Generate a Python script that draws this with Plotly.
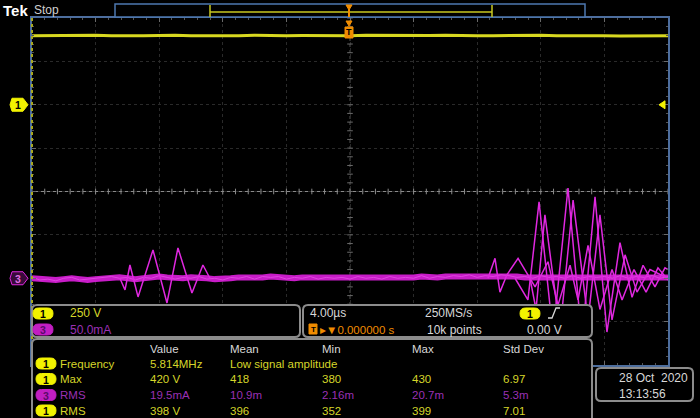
import numpy as np
import plotly.graph_objects as go

# ---------------- scope settings ----------------
time_per_div_us = 4.0
h_divs, v_divs = 10, 8
ch1_volts_per_div = 250.0
ch1_position_div = 2.0
ch3_ma_per_div = 50.0
ch3_position_div = -2.0

# ---------------- waveform data ----------------
# Channel 1 (yellow), volts, samples spread evenly over the record
ch1_volts = [398, 399, 397, 398, 400, 398, 396, 398, 399, 401,
             398, 397, 399, 398, 400, 397, 398, 399, 398, 396,
             398, 400, 399, 397, 398, 399, 401, 398, 397, 398,
             399, 398, 400, 397, 398, 399, 398, 396, 398, 399, 398]

# Channel 3 (magenta) baseline band, mA, samples spread evenly over the record
ch3_base_ma = [0, -1, -2, -2, -1, 0, -1, -2, -1, 0,
               1, 1, 0, -1, 0, 1, 2, 1, 0, 0,
               1, 1, 0, -1, -1, 0, 1, 1, 0, 1,
               2, 1, 0, 0, 1, 1, 0, 0, 1, 0,
               0, 1, 1, 0, 0, 1, 1, 0, 1, 2,
               1, 1, 2, 2, 3, 3, 2, 2, 3, 3,
               2, 2, 1, 1, 2, 2, 1, 1, 2, 1,
               1, 2, 1, 1, 2, 1, 1, 2, 2, 1, 1]
ch3_fuzz_ma = [1, -2, -1, -3, 0, 1, -2, -1, 0, 1,
               2, 0, 1, -2, 1, 0, 3, 1, -1, 1,
               0, 2, -1, 0, -2, 1, 0, 2, -1, 2,
               1, 2, -1, 1, 0, 2, -1, 1, 0, 1,
               -1, 2, 0, 1, -1, 2, 0, 1, 0, 3,
               0, 2, 1, 3, 2, 4, 1, 3, 2, 4,
               3, 1, 2, 0, 3, 1, 2, 0, 3, 0,
               2, 1, 2, 0, 3, 0, 2, 1, 3, 0, 2]

# Transient bursts on channel 3 (time in µs, current in mA)
burst1_t_us = [-14.47, -14.15, -13.84, -13.33, -12.39, -11.51, -10.82, -9.94, -9.25, -8.81]
burst1_ma = [0, -13.5, 15.3, -21.5, 32.6, -28.5, 34.9, -16.9, 15.3, 0]
burstA_t_us = [10.38, 11.19, 11.89, 12.77, 13.71, 14.59, 15.41, 16.16, 16.98, 17.74, 18.43, 19.18, 19.81, 20.0]
burstA_ma = [0, -25, 88, -65, 104, -71, 94, -62, 41, -22, 15, -10, 12, 10]
burstB_t_us = [8.68, 9.12, 9.43, 9.87, 10.57, 11.64, 12.45, 13.08, 13.84, 14.34, 14.97, 15.72,
               16.48, 17.11, 17.86, 18.62, 19.37, 20.0]
burstB_ma = [0, 23, -16, 4, 23, -10, 19, -31, 15, -25, 38, -36, 10, -25, 10, -16, 12, -2]
burstC_t_us = [11.32, 11.70, 12.26, 13.21, 14.03, 14.97, 15.72, 16.48, 17.30, 18.05, 18.87, 20.0]
burstC_ma = [0, -36, 73, -60, 90, -48, 73, -48, 27, -16, 10, 0]

# ---------------- readout texts ----------------
ch1_scale_text = "250 V"
ch3_scale_text = "50.0mA"
horiz_scale_text = "4.00µs"
trig_pos_text = "▸▼0.000000 s"
sample_rate_text = "250MS/s"
record_len_text = "10k points"
trig_level_text = "0.00 V"
date_text = "28 Oct  2020"
time_text = "13:13:56"

meas_headers = ["Value", "Mean", "Min", "Max", "Std Dev"]
meas_sources = ["1", "1", "3", "1"]
meas_names = ["Frequency", "Max", "RMS", "RMS"]
meas_value = ["5.814MHz", "420 V", "19.5mA", "398 V"]
meas_mean = ["Low signal amplitude", "418", "10.9m", "396"]
meas_min = ["", "380", "2.16m", "352"]
meas_max = ["", "430", "20.7m", "399"]
meas_std = ["", "6.97", "5.3m", "7.01"]

# ---------------- layout helpers ----------------
W, H = 700, 418
GL, GR, GT, GB = 32, 668, 18, 365   # graticule box in pixels
FONT = "Liberation Sans, Arial, sans-serif"
YEL = "#f2f200"
YEL_TXT = "#d6d62a"
MAG = "#e028e0"
MAG_TXT = "#9a30b4"
WHT = "#d8d8d8"
ORG = "#f08c00"
BOXC = "#8c8c8c"


def X(p):
    return (p - GL) / (GR - GL)


def Y(p):
    return (GB - p) / (GB - GT)


def div_to_py(d):
    return GB - (d + v_divs / 2) / v_divs * (GB - GT)


half_t = time_per_div_us * h_divs / 2
x_range = [-half_t, half_t]
ch1_range = [(-v_divs / 2 - ch1_position_div) * ch1_volts_per_div,
             (v_divs / 2 - ch1_position_div) * ch1_volts_per_div]
ch3_range = [(-v_divs / 2 - ch3_position_div) * ch3_ma_per_div,
             (v_divs / 2 - ch3_position_div) * ch3_ma_per_div]

shapes = []
annotations = []


def rrect(x0, y0, x1, y1, r, line_color, fill="black", width=1.5, layer="above"):
    path = (f"M {X(x0 + r)},{Y(y0)} L {X(x1 - r)},{Y(y0)} Q {X(x1)},{Y(y0)} {X(x1)},{Y(y0 + r)} "
            f"L {X(x1)},{Y(y1 - r)} Q {X(x1)},{Y(y1)} {X(x1 - r)},{Y(y1)} "
            f"L {X(x0 + r)},{Y(y1)} Q {X(x0)},{Y(y1)} {X(x0)},{Y(y1 - r)} "
            f"L {X(x0)},{Y(y0 + r)} Q {X(x0)},{Y(y0)} {X(x0 + r)},{Y(y0)} Z")
    shapes.append(dict(type="path", xref="paper", yref="paper", path=path,
                       line=dict(color=line_color, width=width), fillcolor=fill, layer=layer))


def poly(points, line_color, fill, width=1.0, layer="above"):
    path = "M " + " L ".join(f"{X(a)},{Y(b)}" for a, b in points) + " Z"
    shapes.append(dict(type="path", xref="paper", yref="paper", path=path,
                       line=dict(color=line_color, width=width), fillcolor=fill, layer=layer))


def pline(points, color, width=1.0, dash="solid", layer="above"):
    path = "M " + " L ".join(f"{X(a)},{Y(b)}" for a, b in points)
    shapes.append(dict(type="path", xref="paper", yref="paper", path=path,
                       line=dict(color=color, width=width, dash=dash), layer=layer))


def text(x, y, s, color, size=11.5, anchor="left", bold=False, family=FONT):
    if bold:
        s = f"<b>{s}</b>"
    annotations.append(dict(x=X(x), y=Y(y), xref="paper", yref="paper", text=s, showarrow=False,
                            xanchor=anchor, yanchor="middle",
                            font=dict(color=color, size=size, family=family)))


def badge(cx, cy, label, fill, txt_color, w=20, h=11):
    rrect(cx - w / 2, cy - h / 2, cx + w / 2, cy + h / 2, h / 2, fill, fill, 1)
    text(cx, cy + 0.5, label, txt_color, 10.5, anchor="center", bold=True)


# ---------------- figure ----------------
fig = go.Figure()

t_ch1 = np.linspace(x_range[0], x_range[1], len(ch1_volts))
t_ch3 = np.linspace(x_range[0], x_range[1], len(ch3_base_ma))

fig.add_trace(go.Scatter(x=t_ch1, y=ch1_volts, yaxis="y2", mode="lines",
                         line=dict(color="#d8d820", width=3), hoverinfo="skip"))
fig.add_trace(go.Scatter(x=t_ch3, y=ch3_base_ma, yaxis="y3", mode="lines",
                         line=dict(color="#c81cc8", width=6), hoverinfo="skip"))
fig.add_trace(go.Scatter(x=t_ch3, y=ch3_fuzz_ma, yaxis="y3", mode="lines",
                         line=dict(color="#f060f0", width=1.0), opacity=0.6, hoverinfo="skip"))
for bt, bm in [(burst1_t_us, burst1_ma), (burstB_t_us, burstB_ma),
               (burstC_t_us, burstC_ma), (burstA_t_us, burstA_ma)]:
    fig.add_trace(go.Scatter(x=bt, y=bm, yaxis="y3", mode="lines",
                             line=dict(color=MAG, width=1.5), hoverinfo="skip"))

# center graticule tick marks
minor_t = np.arange(x_range[0], x_range[1] + 1e-9, time_per_div_us / 5)
minor_v = np.arange(-v_divs / 2, v_divs / 2 + 1e-9, 0.2)
fig.add_trace(go.Scatter(x=minor_t, y=np.zeros_like(minor_t), mode="markers",
                         marker=dict(symbol="line-ns", size=4, line=dict(width=1, color="#8a8a8a")),
                         hoverinfo="skip"))
fig.add_trace(go.Scatter(x=np.zeros_like(minor_v), y=minor_v, mode="markers",
                         marker=dict(symbol="line-ew", size=4, line=dict(width=1, color="#6a6a6a")),
                         hoverinfo="skip"))

# center lines
shapes.append(dict(type="line", xref="x", yref="y", x0=x_range[0], x1=x_range[1], y0=0, y1=0,
                   line=dict(color="#8a8a8a", width=1), layer="below"))
shapes.append(dict(type="line", xref="x", yref="y", x0=0, x1=0, y0=-v_divs / 2, y1=v_divs / 2,
                   line=dict(color="#505050", width=1, dash="dot"), layer="below"))
# left border (channel 1 coloured ticks)
pline([(GL, GT), (GL, GB)], "#a8a820", 2, dash="dot")

# channel markers on the left
y1m = div_to_py(ch1_position_div)
poly([(12, y1m - 6.5), (23, y1m - 6.5), (28, y1m), (23, y1m + 6.5), (12, y1m + 6.5), (10, y1m)], YEL, YEL)
text(17.5, y1m + 0.5, "1", "black", 10.5, anchor="center", bold=True)
y3m = div_to_py(ch3_position_div)
poly([(12, y3m - 6.5), (23, y3m - 6.5), (28, y3m), (23, y3m + 6.5), (12, y3m + 6.5), (10, y3m)], MAG, "#3a0a3a")
text(17.5, y3m + 0.5, "3", "#e070e0", 10.5, anchor="center", bold=True)
# trigger level arrow on the right
poly([(659, y1m), (665, y1m - 4), (665, y1m + 4)], YEL, YEL)

# top bar: Tek Stop + record view
text(1, 10, "Tek", "white", 15, bold=True)
text(32, 10, "Stop", "#d0d0d0", 12)
shapes.append(dict(type="rect", xref="paper", yref="paper", x0=X(115), x1=X(585), y0=Y(4), y1=Y(17),
                   line=dict(color="#4d78b0", width=1.5), fillcolor="black", layer="above"))
pline([(210, 5), (210, 17)], "#c8c820", 1.5)
pline([(492, 5), (492, 17)], "#c8c820", 1.5)
pline([(210, 12), (492, 12)], "#c8c820", 1.5)
poly([(346, 5), (352, 5), (349, 10)], ORG, ORG)
pline([(349, 9), (349, 17)], ORG, 2)
# trigger position marker on graticule
poly([(346, 21), (352, 21), (349, 26)], ORG, ORG)
shapes.append(dict(type="rect", xref="paper", yref="paper", x0=X(345), x1=X(353), y0=Y(27), y1=Y(38),
                   line=dict(color=ORG, width=1), fillcolor=ORG, layer="above"))
text(349, 32.5, "T", "black", 9, anchor="center", bold=True)

# ---------------- readout boxes ----------------
rrect(32, 305, 300, 337, 5, BOXC, "black", 2)
badge(43, 313.5, "1", YEL, "black")
text(68, 313, ch1_scale_text, YEL_TXT, 12)
badge(43, 329.5, "3", "#c21ec2", "#5a0a6a")
text(68, 329.5, ch3_scale_text, MAG_TXT, 12)

rrect(303, 305, 592, 337, 5, BOXC, "black", 2)
text(308, 313, horiz_scale_text, WHT, 12)
shapes.append(dict(type="rect", xref="paper", yref="paper", x0=X(309), x1=X(317), y0=Y(324), y1=Y(334),
                   line=dict(color=ORG, width=1), fillcolor=ORG, layer="above"))
text(313, 329.5, "T", "black", 8, anchor="center", bold=True)
text(318, 329.5, trig_pos_text, ORG, 11.5)
text(423, 313, sample_rate_text, WHT, 12)
text(425, 329.5, record_len_text, WHT, 12)
badge(530, 313.5, "1", YEL, "black")
pline([(548, 318), (552, 318), (556, 308), (560, 308)], WHT, 1.3)
text(525, 329.5, trig_level_text, WHT, 12)

rrect(32, 339, 592, 430, 5, BOXC, "black", 2)
col_x = [148, 228, 320, 410, 501]
for cx, hd in zip(col_x, meas_headers):
    text(cx, 349, hd, WHT, 11.5)
row_y = [363.5, 379, 395, 410.5]
for i, ry in enumerate(row_y):
    is3 = meas_sources[i] == "3"
    tc = MAG_TXT if is3 else YEL_TXT
    if is3:
        badge(46, ry, meas_sources[i], "#c21ec2", "#5a0a6a")
    else:
        badge(46, ry, meas_sources[i], YEL, "black")
    text(58, ry, meas_names[i], tc, 11.5)
    for cx, col in zip(col_x, [meas_value, meas_mean, meas_min, meas_max, meas_std]):
        if col[i]:
            text(cx, ry, col[i], tc, 11.5)

rrect(596, 368, 693, 401, 5, BOXC, "black", 2)
text(617, 378, date_text, WHT, 12)
text(617, 393.5, time_text, WHT, 12)

axis_common = dict(showticklabels=False, zeroline=False, showline=True, linecolor="#4d6e9e",
                   linewidth=1.5, mirror="ticks", ticks="inside", ticklen=4, tickcolor="#6a6a6a",
                   showgrid=True, gridcolor="#2a2a2a", griddash="dot", gridwidth=1, fixedrange=True)

fig.update_layout(
    width=W, height=H, margin=dict(l=GL, r=W - GR, t=GT, b=H - GB),
    paper_bgcolor="black", plot_bgcolor="black", showlegend=False,
    xaxis=dict(range=x_range, dtick=time_per_div_us, tick0=0,
               minor=dict(dtick=time_per_div_us / 5, ticks="inside", ticklen=2, tickcolor="#555555",
                          showgrid=False), **axis_common),
    yaxis=dict(range=[-v_divs / 2, v_divs / 2], dtick=1, tick0=0,
               minor=dict(dtick=0.2, ticks="inside", ticklen=2, tickcolor="#555555", showgrid=False),
               **axis_common),
    yaxis2=dict(range=ch1_range, overlaying="y", visible=False, fixedrange=True),
    yaxis3=dict(range=ch3_range, overlaying="y", visible=False, fixedrange=True),
    shapes=shapes, annotations=annotations,
)

fig.write_html("out.html", config={"displayModeBar": False},
               post_script="document.body.style.margin='0';document.body.style.background='black';")
